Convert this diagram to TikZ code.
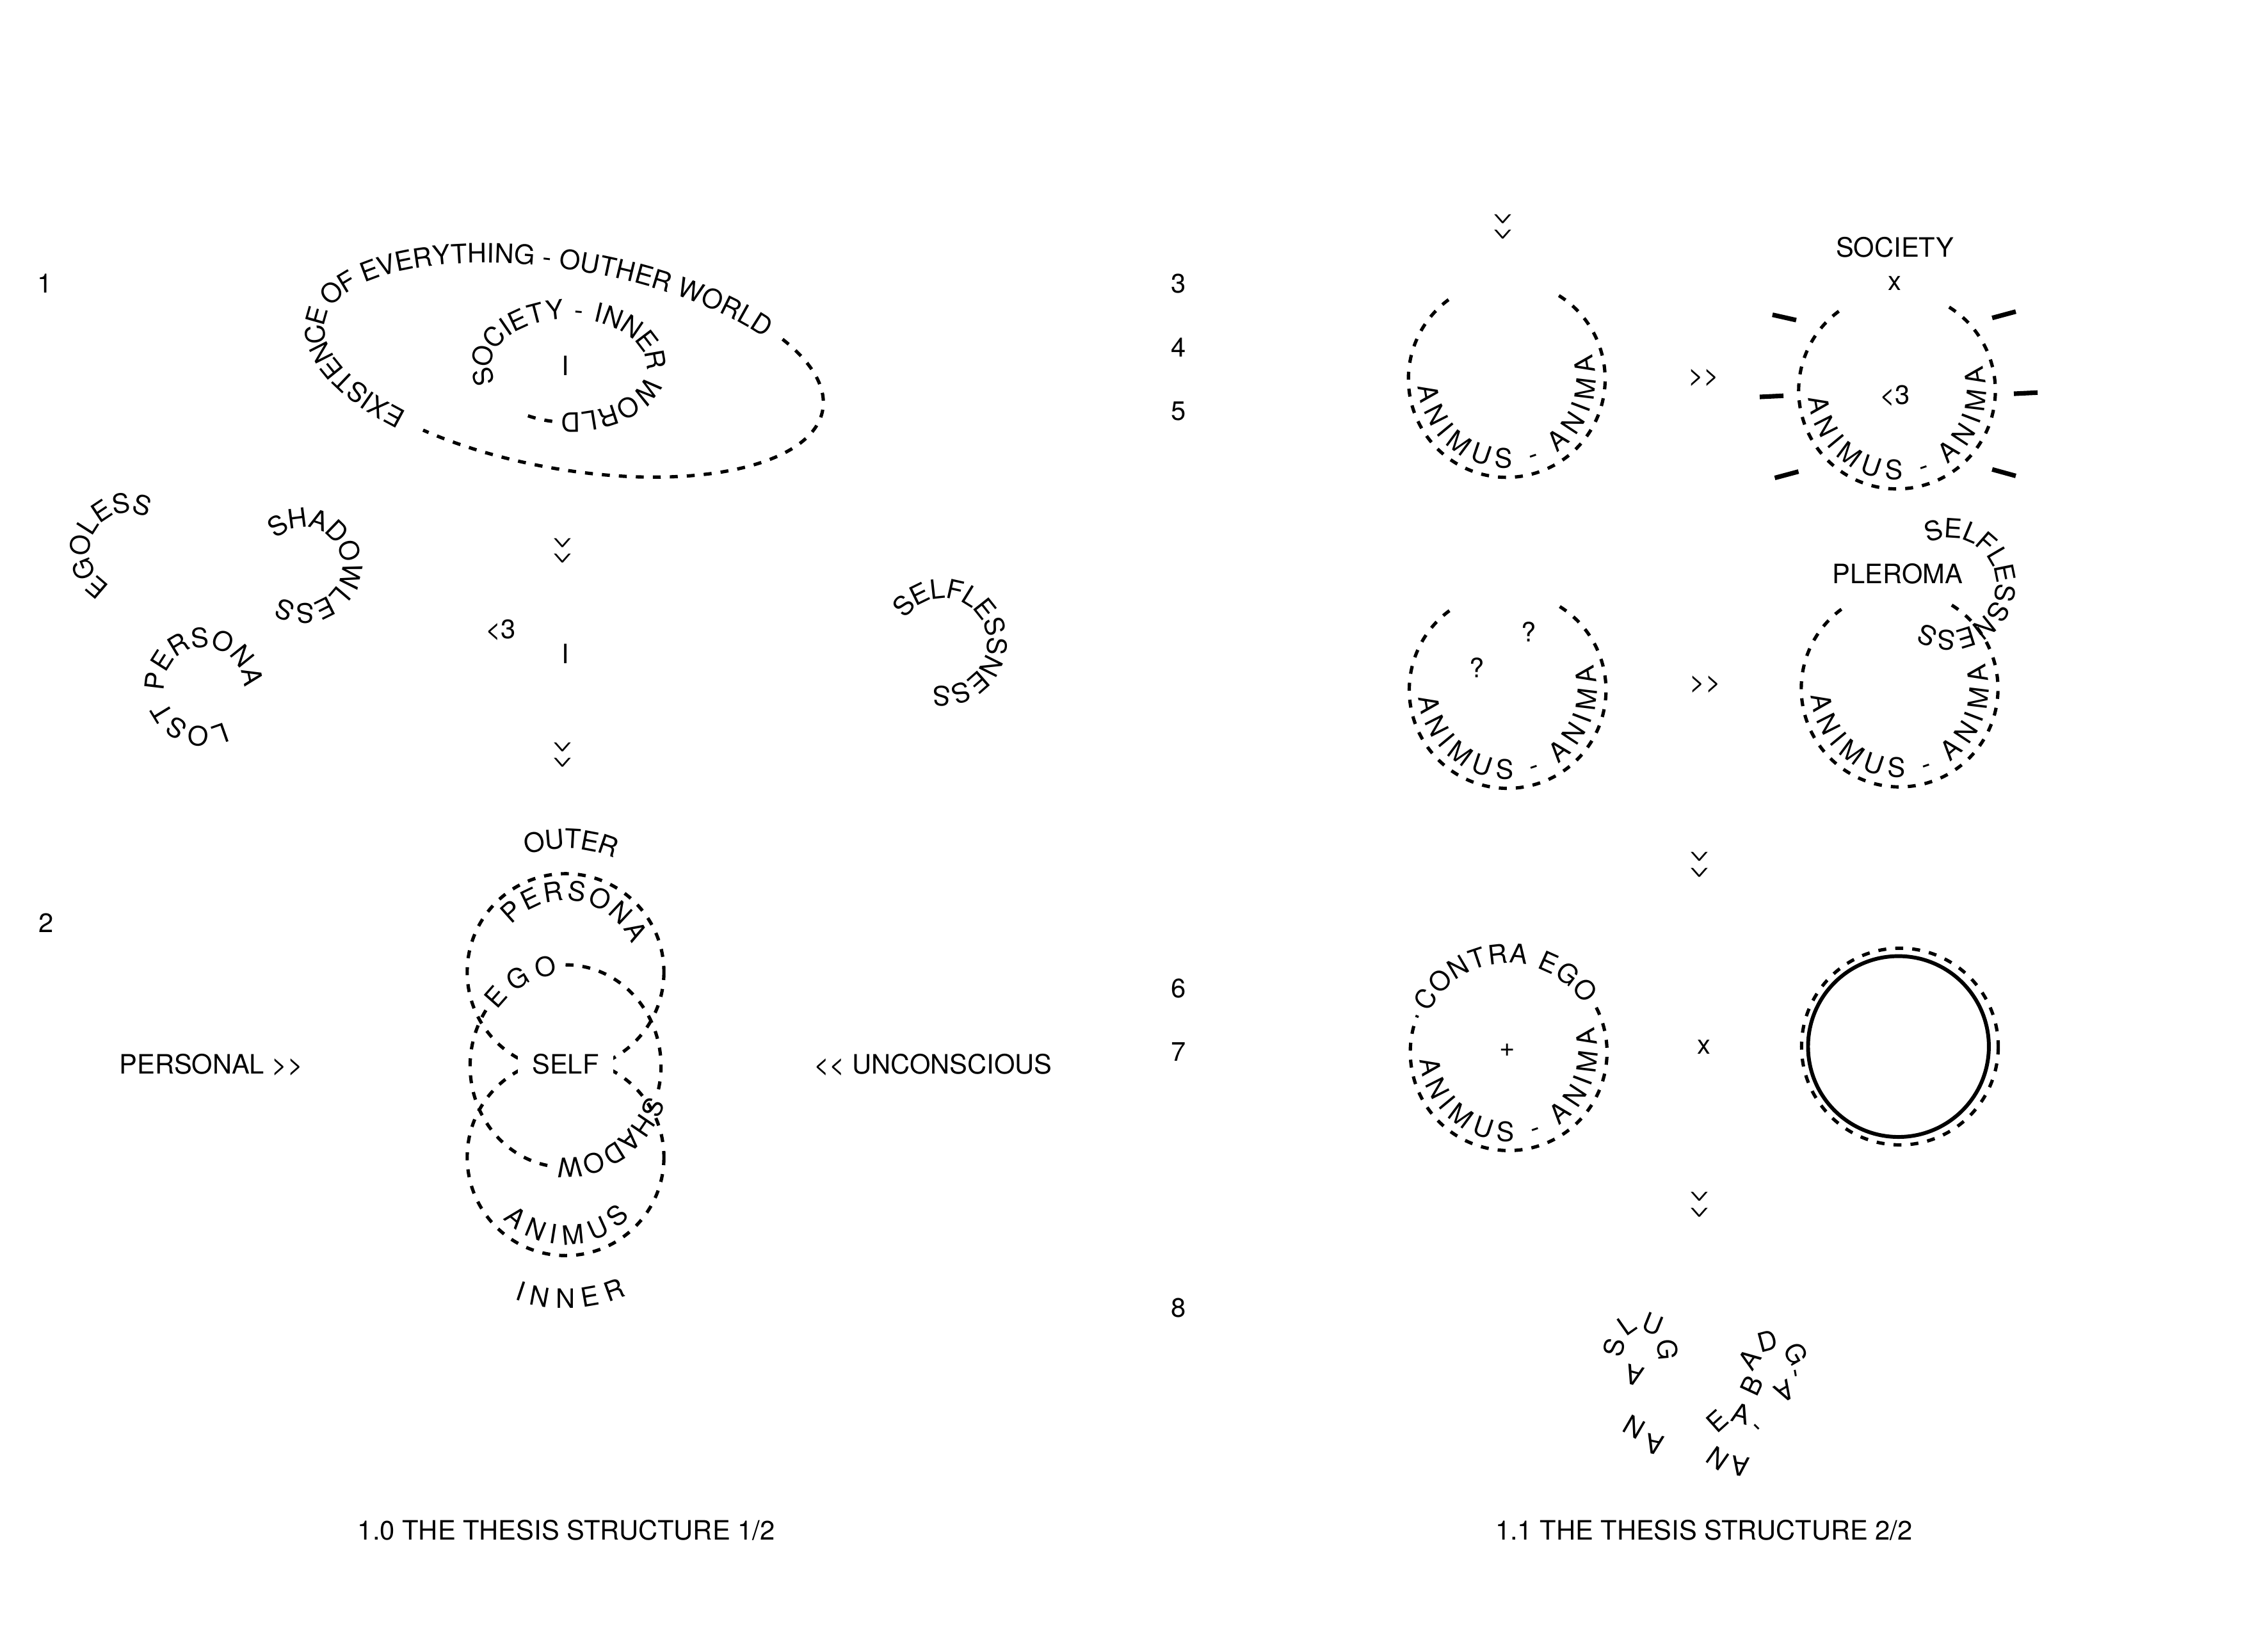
\documentclass[tikz,border=0pt]{standalone}
\usepackage{fontspec}
\setmainfont{TeX Gyre Heros}
\usetikzlibrary{decorations.text}
% text set on a circular arc: centre, radius, start, end, text
\newcommand{\ringtext}[5]{\path[decorate, decoration={text along path, text={#5},
    text align=fit to path, raise=-3.7pt}]
  ([shift={(#3:#2)}]#1) arc[start angle=#3, end angle=#4, radius=#2];}
% dashed circular arc: centre, radius, start, end
\newcommand{\ringdash}[4]{\draw[dash line]
  ([shift={(#3:#2)}]#1) arc[start angle=#3, end angle=#4, radius=#2];}
\newcommand{\dbl}{>\kern0pt>}
\newcommand{\dbll}{<\kern0pt<}

\begin{document}
\begin{tikzpicture}[x=0.2mm, y=-0.2mm,
  dash line/.style={line width=1.3pt, dash pattern=on 1.1mm off 1.25mm},
  lbl/.style={inner sep=0pt, text height=7.5pt, text depth=0pt},
  chev/.style={lbl, rotate=-90},
  ray/.style={line width=1.8pt},
  glyph/.style={lbl, rotate=#1}]
  \fontsize{10.5}{12.6}\selectfont
  \useasboundingbox (0,0) rectangle (1568,1124);
  % --- numbering ----------------------------------------------------
  \node[lbl] (n1) at (31,196) {1};
  \node[lbl] (n2) at (32,638) {2};
  \node[lbl] (n3) at (815,196) {3};
  \node[lbl] (n4) at (815,240) {4};
  \node[lbl] (n5) at (815,284) {5};
  \node[lbl] (n6) at (815,683) {6};
  \node[lbl] (n7) at (815,727) {7};
  \node[lbl] (n8) at (815,904) {8};
  % --- 1: outer world ellipse ---------------------------------------
  \path[decorate, decoration={text along path, text={EXISTENCE OF EVERYTHING - OUTHER WORLD},
      text align=fit to path, raise=-3.7pt}]
    plot[domain=127:318, samples=120, variable=\t]
    ({393.5+178*cos(\t)*cos(10)-72*sin(\t)*sin(10)}, {252.5+178*cos(\t)*sin(10)+72*sin(\t)*cos(10)});
  \draw[dash line] plot[domain=323:481, samples=100, variable=\t]
    ({393.5+178*cos(\t)*cos(10)-72*sin(\t)*sin(10)}, {252.5+178*cos(\t)*sin(10)+72*sin(\t)*cos(10)});
  % inner world
  \path[decorate, decoration={text along path, text={SOCIETY - INNER WORLD},
      text align=fit to path, raise=-3.7pt}]
    ([shift={(160:60.3 and 39)}]393.3,253) arc[start angle=160, end angle=455, x radius=60.3, y radius=39];
  \draw[dash line] ([shift={(101:60.3 and 39)}]393.3,253)
    arc[start angle=101, end angle=118, x radius=60.3, y radius=39];
  \node[lbl] (i1) at (391,253) {I};
  % --- the lost ones ------------------------------------------------
  \ringtext{88.5,381}{33}{120}{298}{EGOLESS}
  \ringtext{210,391}{33}{226}{484}{SHADOWLESS}
  \ringtext{141,475}{34}{62}{358}{LOST PERSONA}
  \ringtext{652,444}{37}{213}{461}{SELFLESSNESS}
  \node[chev] (dn1) at (391,381) {\dbl};
  \node[lbl] (love1) at (346,435) {<3};
  \node[lbl] (i2) at (391,452) {I};
  \node[chev] (dn2) at (391,522) {\dbl};
  % --- 2: the psyche ------------------------------------------------
  \draw[dash line] (391,672) circle[radius=68];
  \draw[dash line] (391,800) circle[radius=68];
  \path[decorate, decoration={text along path, text={EGO}, text align=fit to path, raise=-3.7pt}]
    ([shift={(218:66 and 70)}]391,737) arc[start angle=218, end angle=264, x radius=66, y radius=70];
  \draw[dash line] ([shift={(270:66 and 70)}]391,737) arc[start angle=270, end angle=375, x radius=66, y radius=70];
  \path[decorate, decoration={text along path, text={SHADOW}, text align=fit to path, raise=-3.7pt}]
    ([shift={(379:66 and 70)}]391,737) arc[start angle=379, end angle=455, x radius=66, y radius=70];
  \draw[dash line] ([shift={(101:66 and 70)}]391,737) arc[start angle=101, end angle=214, x radius=66, y radius=70];
  \ringtext{391,672}{92}{252}{293}{OUTER}
  \ringtext{391,672}{56}{222}{336}{PERSONA}
  \ringtext{391,800}{54}{136}{42}{ANIMUS}
  \ringtext{391,800}{98}{110}{66}{INNER}
  \node[lbl, fill=white, inner xsep=2mm, inner ysep=0.9mm] (self) at (391,736) {SELF};
  \node[lbl] (personal) at (146,736) {PERSONAL \dbl};
  \node[lbl] (uncon) at (645,736) {\dbll{} UNCONSCIOUS};
  % --- 3-5: animus - anima ------------------------------------------
  \node[chev] (dn3) at (1041,157) {\dbl};
  \ringdash{1041.7,262}{68}{302}{597}
  \ringtext{1041.7,262}{55}{176}{-17}{ANIMUS - ANIMA}
  \node[lbl] (go1) at (1178,259) {\dbl};
  \node[lbl] (soc) at (1310,171) {SOCIETY};
  \node[lbl] (times1) at (1310,194) {x};
  \ringdash{1311.5,270}{68}{302}{597}
  \ringtext{1311.5,270}{55}{176}{-17}{ANIMUS - ANIMA}
  \node[lbl] (love2) at (1310,273) {<3};
  \draw[ray] (1225.4,217.6) -- (1241.8,221.3);
  \draw[ray] (1377.3,219.8) -- (1393.6,215.4);
  \draw[ray] (1216.6,274.4) -- (1233,273.6);
  \draw[ray] (1392.3,272.2) -- (1408.7,271.4);
  \draw[ray] (1227,330.4) -- (1243.4,326);
  \draw[ray] (1377.3,324.5) -- (1393.6,329);
  % row two
  \ringdash{1042.3,477}{68}{302}{597}
  \ringtext{1042.3,477}{55}{176}{-17}{ANIMUS - ANIMA}
  \node[lbl] (q1) at (1057,437) {?};
  \node[lbl] (q2) at (1021,462) {?};
  \node[lbl] (go2) at (1179,471) {\dbl};
  \ringdash{1313.3,476}{68}{302}{597}
  \ringtext{1313.3,476}{55}{176}{-17}{ANIMUS - ANIMA}
  \node[lbl] (pleroma) at (1312,397) {PLEROMA};
  \ringtext{1348,404}{38.5}{244}{483}{SELFLESSNESS}
  \node[chev] (dn4) at (1177,598) {\dbl};
  % --- 6-7: contra ego ----------------------------------------------
  \ringdash{1043,727.4}{68}{333}{562}
  \ringtext{1043,727.4}{68}{207}{327}{CONTRA EGO}
  \ringtext{1043,727.4}{55}{176}{-17}{ANIMUS - ANIMA}
  \node[lbl] (plus) at (1042,724) {+};
  \node[lbl] (times2) at (1178,722) {x};
  \draw[line width=1.5pt] (1312.5,723.5) circle[radius=62.5];
  \draw[dash line] (1313.5,723.5) circle[radius=68];
  \node[chev] (dn5) at (1177,833) {\dbl};
  % --- 8: scattered letters -----------------------------------------
  \node[glyph=78]   (s1) at (1116,931.6) {S};
  \node[glyph=35]   (s2) at (1124.8,916.1) {L};
  \node[glyph=-22]  (s3) at (1142.5,915.3) {U};
  \node[glyph=-85]  (s4) at (1152.9,933.1) {G};
  \node[glyph=165]  (s5) at (1130,950.8) {A};
  \node[glyph=150]  (s6) at (1130,986.2) {N};
  \node[glyph=168]  (s7) at (1144,998.7) {A};
  \node[glyph=42]   (b1) at (1187.5,982.5) {E};
  \node[glyph=-15]  (b2) at (1203.8,977.3) {A};
  \node[glyph=-45]  (b3) at (1215.6,985.4) {-};
  \node[glyph=65]   (b4) at (1211.1,958.1) {B};
  \node[glyph=55]   (b5) at (1209.7,939.7) {A};
  \node[glyph=15]   (b6) at (1222.2,927.2) {D};
  \node[glyph=-60]  (b7) at (1241.4,936) {G};
  \node[glyph=-80]  (b8) at (1242.8,949.3) {-};
  \node[glyph=-150] (b9) at (1234,961.8) {A};
  \node[glyph=145]  (b10) at (1187.5,1008.3) {N};
  \node[glyph=172]  (b11) at (1203,1013.5) {A};
  % --- captions -----------------------------------------------------
  \node[lbl] (cap1) at (391.5,1058) {1.0 THE THESIS STRUCTURE 1/2};
  \node[lbl] (cap2) at (1178,1058) {1.1 THE THESIS STRUCTURE 2/2};
\end{tikzpicture}
\end{document}
